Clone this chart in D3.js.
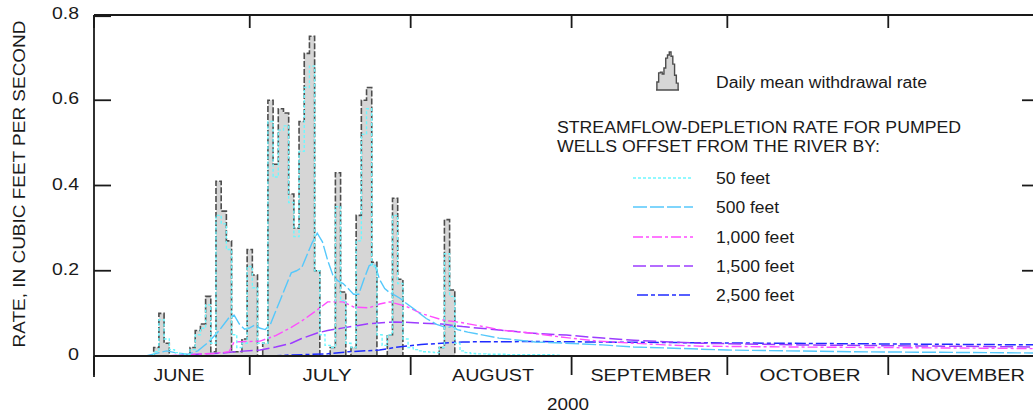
<!DOCTYPE html>
<html><head><meta charset="utf-8">
<script src="https://cdn.jsdelivr.net/npm/d3@7"></script>
<style>
html,body{margin:0;padding:0;background:#fff;}
svg{display:block;font-family:"Liberation Sans",Arial,Helvetica,sans-serif;}
</style></head>
<body>
<svg id="chart" width="1033" height="414"></svg>
<script>
// ---------------- DATA ----------------
const START_DATE = "2000-06-01";
const END_DATE = "2000-12-01";
const yTicks = [0, 0.2, 0.4, 0.6, 0.8];
const yTickLabels = ["0", "0.2", "0.4", "0.6", "0.8"];
const monthStarts = ["2000-06-01","2000-07-01","2000-08-01","2000-09-01","2000-10-01","2000-11-01","2000-12-01"];
const monthLabels = ["JUNE","JULY","AUGUST","SEPTEMBER","OCTOBER","NOVEMBER"];
const yearLabel = "2000";
const yAxisTitle = "RATE, IN CUBIC FEET PER SECOND";

// Daily mean withdrawal rate, one value per day starting June 1, 2000
const withdrawal = [
  0,0,0,0,0,0,0,0,0,0,0,0,              // Jun 1-12
  0.02,0.10,0.03,0,0,0,0,                // Jun 13-19
  0.02,0.06,0.075,0.14,0.01,             // Jun 20-24
  0.41,0.34,0.27,0.01,0.01,0.04,         // Jun 25-30
  0.25,0.19,0,0.03,0.60,0.45,0.58,0.57,0.38,0.30,   // Jul 1-10
  0.55,0.71,0.75,0.20,0,0,0.02,0.43,0.15,0,        // Jul 11-20
  0.02,0.33,0.60,0.63,0.22,0,0,0.05,0.37,0.18,0,   // Jul 21-31
  0,0,0,0,0,0,0.02,0.32,0.155,0,0,0,0,0,0          // Aug 1-15
];
// Streamflow depletion, well 50 feet from river (daily from June 1)
const depletion50 = [
  0,0,0,0,0,0,0,0,0,0,0,0,
  0.01,0.085,0.04,0.015,0.008,0.005,0.003,
  0.015,0.05,0.065,0.12,0.03,
  0.33,0.31,0.25,0.05,0.02,0.03,
  0.21,0.16,0.03,0.03,0.55,0.42,0.53,0.54,0.36,0.28,
  0.48,0.63,0.68,0.2,0.05,0.025,0.02,0.35,0.13,0.03,
  0.02,0.27,0.52,0.58,0.21,0.05,0.025,0.05,0.33,0.17,0.04,
  0.02,0.015,0.012,0.01,0.009,0.008,0.02,0.24,0.14,0.03,0.012,0.008,0.006,0.005,0.005,
  0.004,0.004,0.004,0.004,0.003,0.003,0.003,0.003,0.003,0.003,0.003,0.003,0.003,0.002,0.002
];
// Smoother depletion curves: [date, rate]
const depletion500 = [
  ["2000-06-11",0],["2000-06-13",0.006],["2000-06-15",0.012],["2000-06-17",0.007],["2000-06-19",0.004],
  ["2000-06-21",0.012],["2000-06-23",0.032],["2000-06-25",0.058],["2000-06-27",0.09],["2000-06-28",0.096],
  ["2000-06-29",0.075],["2000-06-30",0.063],["2000-07-01",0.066],["2000-07-02",0.073],["2000-07-03",0.065],
  ["2000-07-04",0.062],["2000-07-05",0.075],["2000-07-07",0.135],["2000-07-09",0.195],["2000-07-10",0.2],
  ["2000-07-11",0.207],["2000-07-13",0.265],["2000-07-14",0.288],["2000-07-15",0.268],["2000-07-16",0.225],
  ["2000-07-17",0.19],["2000-07-18",0.176],["2000-07-19",0.17],["2000-07-20",0.158],["2000-07-21",0.145],
  ["2000-07-22",0.145],["2000-07-23",0.18],["2000-07-24",0.212],["2000-07-25",0.218],["2000-07-26",0.18],
  ["2000-07-27",0.158],["2000-07-28",0.148],["2000-07-29",0.142],["2000-07-30",0.135],["2000-07-31",0.125],
  ["2000-08-02",0.107],["2000-08-04",0.088],["2000-08-06",0.074],["2000-08-08",0.066],["2000-08-09",0.07],
  ["2000-08-10",0.062],["2000-08-12",0.056],["2000-08-15",0.049],["2000-08-18",0.042],["2000-08-25",0.033],
  ["2000-08-31",0.03],["2000-09-07",0.026],["2000-09-13",0.021],["2000-09-19",0.019],["2000-09-26",0.016],
  ["2000-10-01",0.014],["2000-10-25",0.01],["2000-12-01",0.007]
];
const depletion1000 = [
  ["2000-06-15",0],["2000-06-18",0.003],["2000-06-24",0.006],["2000-06-27",0.01],["2000-06-28",0.033],
  ["2000-07-03",0.035],["2000-07-06",0.048],["2000-07-09",0.067],["2000-07-11",0.082],["2000-07-14",0.108],
  ["2000-07-16",0.127],["2000-07-19",0.127],["2000-07-21",0.115],["2000-07-24",0.113],["2000-07-26",0.122],
  ["2000-07-28",0.127],["2000-07-31",0.117],["2000-08-03",0.1],["2000-08-07",0.085],["2000-08-11",0.078],
  ["2000-08-15",0.069],["2000-08-19",0.06],["2000-08-24",0.054],["2000-08-31",0.043],["2000-09-06",0.035],
  ["2000-09-13",0.03],["2000-09-19",0.026],["2000-09-26",0.023],["2000-10-15",0.021],["2000-11-23",0.018],
  ["2000-12-01",0.017]
];
const depletion1500 = [
  ["2000-06-16",0],["2000-06-19",0.003],["2000-06-26",0.007],["2000-06-28",0.01],["2000-07-03",0.014],
  ["2000-07-06",0.021],["2000-07-09",0.03],["2000-07-11",0.041],["2000-07-14",0.054],["2000-07-16",0.06],
  ["2000-07-19",0.066],["2000-07-21",0.07],["2000-07-24",0.076],["2000-07-29",0.08],["2000-07-31",0.079],
  ["2000-08-07",0.075],["2000-08-11",0.069],["2000-08-18",0.061],["2000-08-24",0.054],["2000-08-31",0.049],
  ["2000-09-07",0.042],["2000-09-13",0.037],["2000-09-20",0.033],["2000-09-26",0.03],["2000-10-15",0.026],
  ["2000-12-01",0.021]
];
const depletion2500 = [
  ["2000-07-05",0],["2000-07-08",0.002],["2000-07-16",0.005],["2000-07-20",0.01],["2000-07-26",0.014],
  ["2000-07-29",0.02],["2000-08-03",0.027],["2000-08-11",0.033],["2000-08-25",0.034],["2000-09-26",0.031],
  ["2000-12-01",0.026]
];
const legendLabels = ["50 feet","500 feet","1,000 feet","1,500 feet","2,500 feet"];
const legendTitle = ["STREAMFLOW-DEPLETION RATE FOR PUMPED","WELLS OFFSET FROM THE RIVER BY:"];
const withdrawalLabel = "Daily mean withdrawal rate";
const legendGlyph = [0,0.21,0.45,0.47,0.42,0.58,0.84,0.92,1.0,0.89,0.68,0.39,0.18,0];

// ---------------- STYLE ----------------
const styles = {
  d50:   {color:"#6ef7ff", dash:"3,2",        width:1.4},
  d500:  {color:"#55c8fb", dash:"14,3",       width:1.4},
  d1000: {color:"#ff4cff", dash:"10,3,3,3",   width:1.4},
  d1500: {color:"#9c3cff", dash:"13,4",       width:1.5},
  d2500: {color:"#1f2bff", dash:"11,3,4,3",   width:1.5}
};
const FS = "16px";
const monthLabelWidths = [51,49,82,121,101,114];
const monthLabelX = [179,327,493,651,810,968];
const tickLabelWidths = [11,27,27,27,27];
const legendLabelWidths = [54,63,78,78,78];
const legendTitleWidths = [404,323];

const parse = d3.utcParse("%Y-%m-%d");
const svg = d3.select("#chart");
const ink = "#1a1a1a";

const x = d3.scaleUtc().domain([parse(START_DATE), parse(END_DATE)]).range([94, 1044]);
const y = d3.scaleLinear().domain([0, 0.8]).range([356, 15]);

const startD = parse(START_DATE);
const dayDate = i => d3.utcDay.offset(startD, i);

const withdrawalData = withdrawal.map((v,i)=>({date:dayDate(i), v}));
const d50Data = depletion50.map((v,i)=>({date:dayDate(i), v}));
const toPts = arr => arr.map(([d,v])=>({date:parse(d), v}));

// withdrawal area (daily steps)
const area = d3.area().curve(d3.curveStep).x(d=>x(d.date)).y0(y(0)).y1(d=>y(d.v));
svg.append("path").datum(withdrawalData)
  .attr("d", area).attr("fill", "#d6d6d6").attr("stroke", "none");
const stepLine = d3.line().curve(d3.curveStep).x(d=>x(d.date)).y(d=>y(d.v));
svg.append("path").datum(withdrawalData)
  .attr("d", stepLine).attr("fill","none").attr("stroke","#4d4d4d").attr("stroke-width",1.6)
  .attr("stroke-dasharray","6,2");
const line = d3.line().x(d=>x(d.date)).y(d=>y(d.v));

// depletion lines
const series = [
  {key:"d2500", data:toPts(depletion2500), gen:line},
  {key:"d1500", data:toPts(depletion1500), gen:line},
  {key:"d1000", data:toPts(depletion1000), gen:line},
  {key:"d500",  data:toPts(depletion500),  gen:line},
  {key:"d50",   data:d50Data,              gen:stepLine}
];
series.forEach(s=>{
  const st = styles[s.key];
  svg.append("path").datum(s.data).attr("d", s.gen)
    .attr("fill","none").attr("stroke", st.color)
    .attr("stroke-width", st.width).attr("stroke-dasharray", st.dash);
});

// ---------------- AXES / FRAME ----------------
const months = monthStarts.map(parse);
const xl = x.range()[0], xr = x.range()[1];
const frame = svg.append("g").attr("stroke", ink).attr("stroke-width", 1.8).attr("fill","none");
frame.append("line").attr("x1", xl).attr("x2", xr).attr("y1", y(0.8)).attr("y2", y(0.8));
frame.append("line").attr("x1", xl).attr("x2", xr).attr("y1", y(0)).attr("y2", y(0));
frame.append("line").attr("x1", xl).attr("x2", xl).attr("y1", y(0.8)).attr("y2", y(0)+21);
frame.append("line").attr("x1", xr).attr("x2", xr).attr("y1", y(0.8)).attr("y2", y(0)+21);
months.forEach(m=>{
  frame.append("line").attr("x1", x(m)).attr("x2", x(m)).attr("y1", y(0)).attr("y2", y(0)+19);
  frame.append("line").attr("x1", x(m)).attr("x2", x(m)).attr("y1", y(0.8)).attr("y2", y(0.8)+13);
});
yTicks.forEach(t=>{
  frame.append("line").attr("x1", xl).attr("x2", xl+17).attr("y1", y(t)).attr("y2", y(t));
  frame.append("line").attr("x1", xr-22).attr("x2", xr).attr("y1", y(t)).attr("y2", y(t));
});
frame.append("line").attr("x1", xl).attr("x2", xl+17).attr("y1", y(0.8)+1.2).attr("y2", y(0.8)+1.2);

const txt = svg.append("g").attr("fill", ink).style("font-size", FS);
const fit = (sel, w) => sel.attr("textLength", w).attr("lengthAdjust", "spacingAndGlyphs");

yTicks.forEach((t,i)=>{
  fit(txt.append("text").attr("x", 79 - tickLabelWidths[i]).attr("y", y(t)-1.5)
    .attr("dominant-baseline","central").text(yTickLabels[i]), tickLabelWidths[i]);
});
monthLabels.forEach((lab,i)=>{
  fit(txt.append("text").attr("x", monthLabelX[i] - monthLabelWidths[i]/2).attr("y", 375.5)
    .attr("dominant-baseline","central").text(lab), monthLabelWidths[i]);
});
fit(txt.append("text").attr("x", 568-21).attr("y", 404)
  .attr("dominant-baseline","central").text(yearLabel), 42);
fit(txt.append("text").attr("transform","translate(19,184) rotate(-90)")
  .attr("x", -163.5).attr("dominant-baseline","central").text(yAxisTitle), 327);

// ---------------- LEGEND ----------------
const gx = d3.scaleLinear().domain([0, legendGlyph.length-1]).range([656, 679]);
const gy = d3.scaleLinear().domain([0,1]).range([90, 52]);
svg.append("path").datum(legendGlyph)
  .attr("d", d3.area().curve(d3.curveStep).x((d,i)=>gx(i)).y0(90).y1(d=>gy(d)))
  .attr("fill","#d6d6d6").attr("stroke","#4d4d4d").attr("stroke-width",1.4);
fit(txt.append("text").attr("x",716).attr("y",82).attr("dominant-baseline","central").text(withdrawalLabel), 211);
legendTitle.forEach((t,i)=>{
  fit(txt.append("text").attr("x",557).attr("y",127+i*19).attr("dominant-baseline","central").text(t), legendTitleWidths[i]);
});
const legY = [178,207,237,266,295];
["d50","d500","d1000","d1500","d2500"].forEach((k,i)=>{
  const st = styles[k];
  svg.append("line").attr("x1", k==="d2500"?637:633).attr("x2",693).attr("y1",legY[i]).attr("y2",legY[i])
    .attr("stroke",st.color).attr("stroke-width",st.width).attr("stroke-dasharray",st.dash);
  fit(txt.append("text").attr("x",716).attr("y",legY[i]).attr("dominant-baseline","central").text(legendLabels[i]), legendLabelWidths[i]);
});
</script>
</body></html>
